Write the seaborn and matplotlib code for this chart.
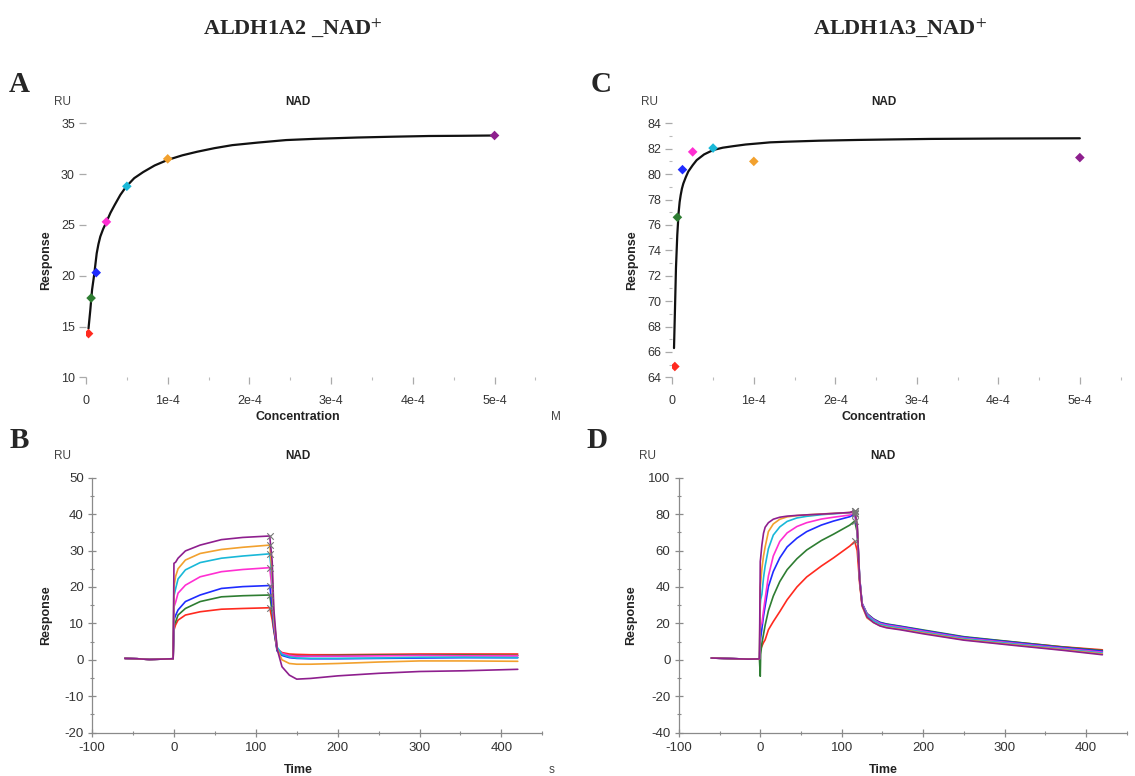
import numpy as np
import pandas as pd
import matplotlib
matplotlib.use("Agg")
import matplotlib.pyplot as plt
from matplotlib.ticker import MultipleLocator
import seaborn as sns

# ---- data ----
levels = ["c1", "c2", "c3", "c4", "c5", "c6", "c7"]
level_colors = ["#ff2a1f", "#2e7d32", "#1f2cff", "#ff2fd2", "#19b8d8", "#f2a12e", "#8e1f8e"]

# steady-state affinity (panels A, C)
conc = [3.125e-6, 6.25e-6, 1.25e-5, 2.5e-5, 5e-5, 1e-4, 5e-4]
a2_resp = [14.3, 17.8, 20.3, 25.3, 28.8, 31.5, 33.8]
a3_resp = [64.85, 76.6, 80.35, 81.75, 82.05, 81.0, 81.3]

a2_fit_conc = [3.06e-6, 5.25e-6, 7.4e-6, 1.0e-5, 1.31e-5, 1.52e-5, 1.75e-5, 2.1e-5, 2.45e-5,
               3.0e-5, 3.5e-5, 4.2e-5, 4.9e-5, 5.9e-5, 7.0e-5, 8.4e-5, 1.0e-4, 1.18e-4,
               1.36e-4, 1.57e-4, 1.79e-4, 2.1e-4, 2.45e-4, 2.8e-4, 3.32e-4, 3.75e-4,
               4.2e-4, 4.6e-4, 5.0e-4]
a2_fit_resp = [14.8, 16.6, 18.6, 20.1, 22.2, 23.1, 23.85, 24.6, 25.2,
               26.2, 26.95, 27.95, 28.75, 29.6, 30.2, 30.85, 31.4, 31.85,
               32.2, 32.55, 32.85, 33.1, 33.35, 33.47, 33.6, 33.68,
               33.75, 33.77, 33.8]
a3_fit_conc = [2.1e-6, 3.3e-6, 4.5e-6, 6.1e-6, 7.8e-6, 9.0e-6, 1.03e-5, 1.18e-5, 1.35e-5,
               1.65e-5, 1.96e-5, 2.5e-5, 2.99e-5, 3.9e-5, 5.03e-5, 6.2e-5, 7.48e-5, 9.0e-5,
               1.08e-4, 1.2e-4, 1.4e-4, 1.8e-4, 2.28e-4, 2.7e-4, 3.17e-4, 4.0e-4, 5.0e-4]
a3_fit_resp = [66.3, 69.4, 72.6, 75.2, 77.0, 77.8, 78.35, 78.85, 79.25,
               79.75, 80.2, 80.7, 81.1, 81.55, 81.9, 82.08, 82.2, 82.33,
               82.43, 82.5, 82.55, 82.63, 82.69, 82.73, 82.77, 82.8, 82.82]

# sensorgrams, ALDH1A2 (panel B)
b_time = [-60, -45, -30, -15, -1,
          0, 2, 5, 14, 32, 58, 84, 117,
          120, 122, 126, 132, 141, 150, 167, 200, 250, 300, 355, 420]
b_base = [0.4, 0.3, 0.1, 0.2, 0.3]
b_c1 = b_base + [8.2, 9.6, 10.9, 12.3, 13.2, 13.9, 14.1, 14.3] + [11, 8, 3, 2.0, 1.6, 1.5, 1.4, 1.4, 1.5, 1.6, 1.6, 1.6]
b_c2 = b_base + [9.5, 10.4, 12.3, 14.1, 16.0, 17.3, 17.6, 17.8] + [13, 8.5, 2.5, 1.5, 1.2, 1.1, 1.1, 1.2, 1.3, 1.3, 1.3, 1.2]
b_c3 = b_base + [11.0, 12.2, 13.7, 16.0, 17.8, 19.6, 20.1, 20.4] + [15, 9, 2.5, 1.2, 0.6, 0.4, 0.3, 0.3, 0.4, 0.5, 0.6, 0.6]
b_c4 = b_base + [14.5, 15.8, 18.3, 20.5, 22.8, 24.2, 24.8, 25.3] + [19, 10, 3, 1.8, 1.2, 1.0, 1.0, 1.0, 1.1, 1.2, 1.1, 1.1]
b_c5 = b_base + [17.5, 19.5, 22.2, 24.7, 26.7, 27.9, 28.5, 29.1] + [22, 11, 3.5, 1.5, 0.8, 0.5, 0.4, 0.4, 0.5, 0.7, 0.7, 0.6]
b_c6 = b_base + [20.0, 22.9, 25.0, 27.4, 29.2, 30.3, 30.9, 31.5] + [24, 12, 3, 0, -1.0, -1.2, -1.2, -1.0, -0.6, -0.3, -0.3, -0.4]
b_c7 = b_base + [26.5, 26.8, 27.9, 29.9, 31.5, 33.0, 33.6, 34.0] + [27, 14, 3, -1.9, -4.2, -5.3, -5.1, -4.4, -3.7, -3.2, -3.0, -2.6]

# sensorgrams, ALDH1A3 (panel D)
d_time = [-60, -45, -30, -15, -1,
          0, 0.5, 2, 4, 6, 10, 16, 24, 33, 45, 57, 75, 90, 110, 116,
          119, 122, 125, 131, 139, 147, 155, 172, 200, 250, 310, 370, 420]
d_base = [1.0, 0.8, 0.6, 0.4, 0.5]
d_c1 = d_base + [5, 6, 7.5, 9.5, 11, 16.5, 21, 26.5, 33, 40, 45.5, 51.5, 56, 62.5, 65] + [60, 42, 30, 24.8, 21.9, 20.0, 19.2, 18.0, 15.9, 12.4, 9.8, 7.2, 5.5]
d_c2 = d_base + [-9, 3, 9, 14, 19, 27, 35, 43, 49.5, 55.5, 60.3, 65.5, 69, 74, 76.2] + [70, 44, 31, 25.5, 22.5, 20.6, 19.7, 18.5, 16.4, 12.7, 9.9, 7.1, 5.1]
d_c3 = d_base + [10, 12, 17, 24, 29.5, 40.2, 48.5, 56, 62, 66.8, 70.4, 74, 76.2, 78.6, 80.0] + [72, 45, 31, 25.2, 22.3, 20.4, 19.5, 18.3, 16.1, 12.4, 9.6, 6.8, 4.7]
d_c4 = d_base + [18, 19, 20, 27, 33.5, 46, 57, 65, 69.7, 73.2, 75.3, 77.3, 78.3, 79.5, 80.8] + [73, 45, 31, 25, 22, 20, 19.1, 17.9, 15.7, 12.0, 9.2, 6.4, 4.2]
d_c5 = d_base + [30, 33, 36, 45, 51.5, 61, 68.5, 73, 76, 77.9, 78.8, 79.7, 80.2, 80.8, 81.5] + [74, 45, 30.5, 24.5, 21.5, 19.5, 18.6, 17.4, 15.2, 11.6, 8.8, 6.0, 3.7]
d_c6 = d_base + [40, 42, 50, 57, 62, 70.4, 74.6, 77.2, 78.5, 79.2, 79.6, 80.1, 80.4, 80.9, 81.6] + [74, 44, 29.5, 23, 20.5, 18.8, 17.9, 16.8, 14.7, 11.1, 8.3, 5.6, 3.2]
d_c7 = d_base + [54, 56, 63, 69.5, 72.8, 75.3, 77.2, 78.3, 78.9, 79.3, 79.6, 80.0, 80.4, 80.9, 81.8] + [74, 44, 30, 23.5, 20.5, 18.6, 17.6, 16.5, 14.3, 10.8, 8.0, 5.3, 2.8]

b_end_time = 117
d_end_time = 116

conc_ticks = [0, 1e-4, 2e-4, 3e-4, 4e-4, 5e-4]
conc_ticklabels = ["0", "1e-4", "2e-4", "3e-4", "4e-4", "5e-4"]

W, H = 1135, 776


def fx(px):
    return px / W


def fy(py):
    return 1 - py / H


def long_table(time, curves):
    rows = []
    for lvl, vals in zip(levels, curves):
        for t, v in zip(time, vals):
            rows.append((lvl, t, v))
    return pd.DataFrame(rows, columns=["level", "time", "response"])


sns.set_style("white")
plt.rcParams["font.family"] = ["Liberation Sans", "DejaVu Sans"]
plt.rcParams["mathtext.fontset"] = "stix"
plt.rcParams["axes.unicode_minus"] = False
palette = dict(zip(levels, level_colors))
tick_col = "#333333"

fig = plt.figure(figsize=(W / 100, H / 100), dpi=100)

ax_a = fig.add_axes([fx(86), fy(377.3), fx(535.4 - 86), 254 / H])
ax_c = fig.add_axes([fx(672.3), fy(377.3), fx(1120.6 - 672.3), 254 / H])
ax_b = fig.add_axes([fx(92.1), fy(732.7), fx(542.3 - 92.1), 255 / H])
ax_d = fig.add_axes([fx(678.8), fy(732.7), fx(1126.8 - 678.8), 255 / H])


def affinity_panel(ax, resp, fit_c, fit_r, ylim, ymajor, yminor):
    fit = pd.DataFrame({"conc": fit_c, "resp": fit_r})
    sns.lineplot(data=fit, x="conc", y="resp", color="#111111", lw=1.6,
                 sort=False, estimator=None, solid_joinstyle="round", ax=ax)
    pts = pd.DataFrame({"conc": conc, "resp": resp, "level": levels})
    sns.scatterplot(data=pts, x="conc", y="resp", hue="level", palette=palette,
                    marker="D", s=24, edgecolor="none", legend=False, ax=ax, zorder=3)
    ax.set_xlim(0, 5.5e-4)
    ax.set_ylim(*ylim)
    ax.set_xticks(conc_ticks)
    ax.set_xticklabels(conc_ticklabels)
    ax.xaxis.set_minor_locator(MultipleLocator(0.5e-4))
    ax.yaxis.set_major_locator(MultipleLocator(ymajor))
    ax.yaxis.set_minor_locator(MultipleLocator(yminor))
    for s in ax.spines.values():
        s.set_visible(False)
    ax.tick_params(axis="both", which="major", length=5, width=0.9, color="#aaaaaa",
                   labelsize=9, labelcolor=tick_col)
    ax.tick_params(axis="both", which="minor", length=2.5, width=0.8, color="#bbbbbb")
    ax.tick_params(axis="y", left=True, which="both", pad=3)
    ax.tick_params(axis="x", bottom=True, which="both", pad=8)
    ax.set_xlabel("")
    ax.set_ylabel("")


def sensor_panel(ax, time, curves, end_time, ylim, ymajor, yminor):
    df = long_table(time, curves)
    sns.lineplot(data=df, x="time", y="response", hue="level", palette=palette,
                 lw=1.2, sort=False, estimator=None, legend=False, ax=ax)
    ends = df[df["time"] == end_time]
    sns.scatterplot(data=ends, x="time", y="response", color="#777777", marker="x",
                    s=22, linewidth=0.8, legend=False, ax=ax, zorder=3)
    ax.set_xlim(-100, 450)
    ax.set_ylim(*ylim)
    ax.xaxis.set_major_locator(MultipleLocator(100))
    ax.xaxis.set_minor_locator(MultipleLocator(50))
    ax.yaxis.set_major_locator(MultipleLocator(ymajor))
    ax.yaxis.set_minor_locator(MultipleLocator(yminor))
    for side in ["top", "right"]:
        ax.spines[side].set_visible(False)
    for side in ["left", "bottom"]:
        ax.spines[side].set_color("#8a8a8a")
        ax.spines[side].set_linewidth(0.9)
    ax.tick_params(axis="both", which="major", direction="inout", length=6, width=0.9,
                   color="#8a8a8a", labelsize=9.5, labelcolor=tick_col)
    ax.tick_params(axis="both", which="minor", direction="inout", length=3, width=0.8,
                   color="#8a8a8a")
    ax.tick_params(axis="y", left=True, which="both", pad=3)
    ax.tick_params(axis="x", bottom=True, which="both", pad=4)
    ax.set_xlabel("")
    ax.set_ylabel("")


affinity_panel(ax_a, a2_resp, a2_fit_conc, a2_fit_resp, (10, 35), 5, 5)
affinity_panel(ax_c, a3_resp, a3_fit_conc, a3_fit_resp, (64, 84), 2, 1)
sensor_panel(ax_b, b_time, [b_c1, b_c2, b_c3, b_c4, b_c5, b_c6, b_c7], b_end_time, (-20, 50), 10, 5)
sensor_panel(ax_d, d_time, [d_c1, d_c2, d_c3, d_c4, d_c5, d_c6, d_c7], d_end_time, (-40, 100), 20, 10)

# headings
serif = ["Liberation Serif", "DejaVu Serif"]
fig.text(fx(293), fy(28), r"ALDH1A2 _NAD$^{+}$", ha="center", va="center",
         fontsize=16, fontweight="bold", family=serif)
fig.text(fx(900), fy(28), r"ALDH1A3_NAD$^{+}$", ha="center", va="center",
         fontsize=16, fontweight="bold", family=serif)
for letter, (x, y) in {"A": (19.5, 84), "C": (601, 84), "B": (19.5, 441), "D": (597, 441)}.items():
    fig.text(fx(x), fy(y), letter, ha="center", va="center", fontsize=21,
             fontweight="bold", family=serif)

# per-panel texts
for (x_ru, y_ru, x_mid, x_resp, y_resp, y_xl, xl) in [
        (62.5, 102, 298, 45.7, 260, 417, "Concentration"),
        (649, 102, 884, 632, 260, 417, "Concentration"),
        (62.5, 456, 298, 45.7, 615, 770, "Time"),
        (647.5, 456, 883, 631, 615, 770, "Time")]:
    fig.text(fx(x_ru), fy(y_ru), "RU", ha="center", va="center", fontsize=8.5, color="#444444")
    fig.text(fx(x_mid), fy(y_ru), "NAD", ha="center", va="center", fontsize=8.5,
             fontweight="bold", color="#222222")
    fig.text(fx(x_mid), fy(y_xl), xl, ha="center", va="center", fontsize=9,
             fontweight="bold", color="#222222")
    fig.text(fx(x_resp), fy(y_resp), "Response", ha="center", va="center", fontsize=9,
             fontweight="bold", color="#222222", rotation=90)

fig.text(fx(556), fy(417), "M", ha="center", va="center", fontsize=8.5, color="#444444")
fig.text(fx(552), fy(770), "s", ha="center", va="center", fontsize=8.5, color="#444444")

fig.savefig("out.png", dpi=100)
